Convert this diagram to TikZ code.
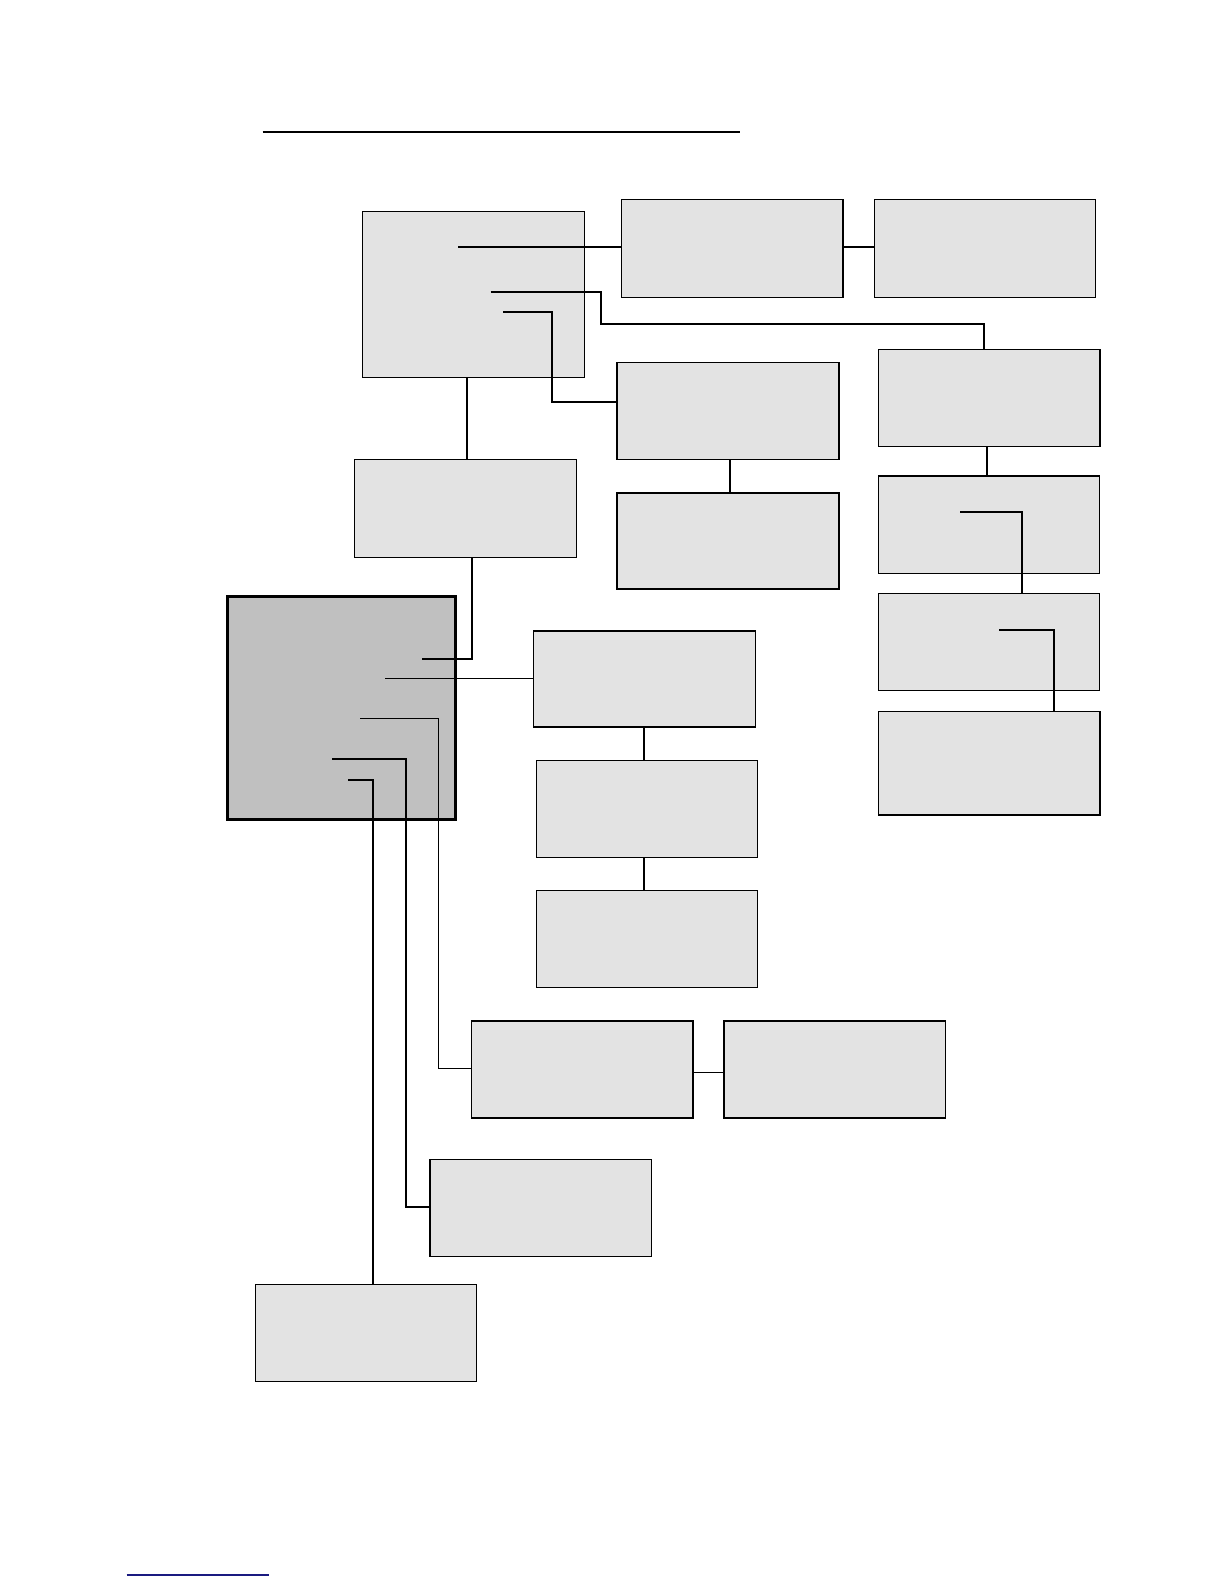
\documentclass[tikz,border=0pt]{standalone}
\usetikzlibrary{fit}
\definecolor{boxgray}{HTML}{E3E3E3}
\definecolor{biggray}{HTML}{C0C0C0}
\definecolor{linkblue}{HTML}{1A1A80}
\tikzset{
  box/.style={draw=black, fill=boxgray, line width=0.75bp, inner sep=0pt},
  bigbox/.style={draw=black, fill=biggray, line width=1.35bp, inner sep=0pt},
  wire/.style={draw=black, line width=1bp},
  thinwire/.style={draw=black, line width=0.55bp},
}
\newcommand{\mkbox}[6]{%
  \path (#3,#4) coordinate (#2-nw) (#5,#6) coordinate (#2-se);
  \node[#1, fit=(#2-nw)(#2-se)] (#2) {};}
\begin{document}
\begin{tikzpicture}[x=0.5bp,y=-0.5bp]
\useasboundingbox[fill=white] (0,0) rectangle (1224,1584);
% title rule
\coordinate (tl) at (262.7,132);
\coordinate (tr) at (740,132);
\draw[line width=1bp] (tl) -- (tr);
% bottom link rule
\coordinate (bl) at (126.7,1575);
\coordinate (br) at (269,1575);
\draw[linkblue, line width=0.6bp] (bl) -- (br);
% boxes
\mkbox{box}{top}{362.7}{211.7}{584.3}{377.7}
\mkbox{box}{A}{621.3}{199.3}{843}{297.3}
\mkbox{box}{B}{874.3}{199.3}{1095.7}{297.3}
\mkbox{box}{C}{617}{362.6}{839.2}{459.5}
\mkbox{box}{D}{617}{492.8}{839.2}{588.8}
\mkbox{box}{mid}{354.5}{459.5}{576.7}{557.5}
\mkbox{box}{Ra}{878.6}{349.4}{1099.8}{446.4}
\mkbox{box}{Rb}{878.4}{476}{1099.4}{573.3}
\mkbox{box}{Rc}{878.4}{593.7}{1099.4}{690.7}
\mkbox{box}{Rd}{878.6}{711.5}{1099.8}{815}
\mkbox{bigbox}{core}{227.3}{596.7}{455.3}{819.7}
\mkbox{box}{E}{533.3}{631}{755.4}{727.2}
\mkbox{box}{Eb}{536.3}{760.5}{757.4}{857.4}
\mkbox{box}{Ec}{536.3}{890.7}{757.4}{987.7}
\mkbox{box}{F}{471.6}{1021}{692.8}{1118}
\mkbox{box}{Fb}{724.1}{1021}{945.3}{1118}
\mkbox{box}{G}{430.2}{1159.4}{651.4}{1256.3}
\mkbox{box}{H}{255.5}{1284.6}{476.7}{1381.5}
% connector start points inside boxes
\coordinate (t1) at (458.3,247);
\coordinate (t2) at (490.7,291.7);
\coordinate (t2k) at (600.7,324);
\coordinate (t3) at (503.3,312);
\coordinate (t3k) at (552,402);
\coordinate (k1) at (422,659);
\coordinate (k2) at (385,678.3);
\coordinate (k3) at (360,718.3);
\coordinate (k3k) at (438.3,1068.5);
\coordinate (k4) at (332,759.3);
\coordinate (k4k) at (405.7,1206.8);
\coordinate (k5) at (348,780);
\coordinate (r2) at (960,512);
\coordinate (r3) at (999,630);
\coordinate (xTop) at (466.7,0);
\coordinate (xMid) at (471.5,0);
\coordinate (xCD) at (730,0);
\coordinate (xE) at (644.3,0);
\coordinate (yF) at (0,1072.5);
\coordinate (xRa) at (987,0);
\coordinate (xRc) at (1022,0);
\coordinate (xRd) at (1054,0);
\coordinate (xRa2) at (983.6,0);
\coordinate (xH) at (373,0);
% connectors
\draw[wire] (t1) -- (t1 -| A.west);
\draw[wire] (A.east |- t1) -- (B.west |- t1);
\draw[wire] (t2) -| (t2k) -- (t2k -| xRa2) -- (xRa2 |- Ra.north);
\draw[wire] (t3) -| (t3k) -- (t3k -| C.west);
\draw[wire] (xTop |- top.south) -- (xTop |- mid.north);
\draw[wire] (xCD |- C.south) -- (xCD |- D.north);
\draw[wire] (k1) -| (xMid |- mid.south);
\draw[thinwire] (k2) -- (k2 -| E.west);
\draw[thinwire] (k3) -| (k3k) -- (k3k -| F.west);
\draw[wire] (k4) -| (k4k) -- (k4k -| G.west);
\draw[wire] (k5) -| (xH |- H.north);
\draw[wire] (xE |- E.south) -- (xE |- Eb.north);
\draw[wire] (xE |- Eb.south) -- (xE |- Ec.north);
\draw[thinwire] (F.east |- yF) -- (Fb.west |- yF);
\draw[wire] (xRa |- Ra.south) -- (xRa |- Rb.north);
\draw[wire] (r2) -| (xRc |- Rc.north);
\draw[wire] (r3) -| (xRd |- Rd.north);
\end{tikzpicture}
\end{document}
